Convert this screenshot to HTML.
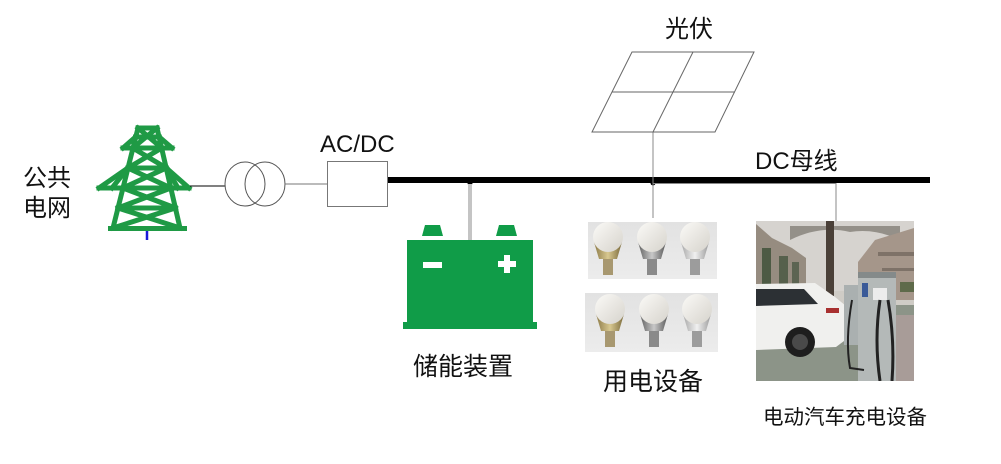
<!DOCTYPE html>
<html><head><meta charset="utf-8">
<style>
html,body{margin:0;padding:0;background:#fff;}
svg{display:block;}
text{font-family:"Liberation Sans","Noto Sans CJK SC",sans-serif;fill:#111;}
</style></head>
<body>
<svg width="1001" height="464" viewBox="0 0 1001 464" xmlns="http://www.w3.org/2000/svg">
<defs>
<linearGradient id="globe" x1="0" y1="0" x2="1" y2="1">
<stop offset="0" stop-color="#fbfaf7"/><stop offset="1" stop-color="#d6d3cc"/></linearGradient>
<linearGradient id="gold" x1="0" y1="0" x2="1" y2="0">
<stop offset="0" stop-color="#8c7a48"/><stop offset="0.5" stop-color="#d8c890"/><stop offset="1" stop-color="#7a6a3c"/></linearGradient>
<linearGradient id="silver" x1="0" y1="0" x2="1" y2="0">
<stop offset="0" stop-color="#606060"/><stop offset="0.5" stop-color="#c8c8c8"/><stop offset="1" stop-color="#585858"/></linearGradient>
<linearGradient id="white" x1="0" y1="0" x2="1" y2="0">
<stop offset="0" stop-color="#a8a8a8"/><stop offset="0.5" stop-color="#f0f0f0"/><stop offset="1" stop-color="#9a9a9a"/></linearGradient>
<linearGradient id="bgb" x1="0" y1="0" x2="0" y2="1">
<stop offset="0" stop-color="#e2e2e2"/><stop offset="1" stop-color="#ececec"/></linearGradient>
<clipPath id="evclip"><rect x="756" y="221" width="158" height="160"/></clipPath>
<g id="bulbG">
<path d="M-14,5 L14,5 L9,22 L-9,22 Z" fill="url(#gold)"/>
<rect x="-5" y="22" width="10" height="16" fill="#a89870"/>
<circle cx="0" cy="0" r="15" fill="url(#globe)"/>
</g>
<g id="bulbS">
<path d="M-14,5 L14,5 L9,22 L-9,22 Z" fill="url(#silver)"/>
<rect x="-5" y="22" width="10" height="16" fill="#8a8a8a"/>
<circle cx="0" cy="0" r="15" fill="url(#globe)"/>
</g>
<g id="bulbW">
<path d="M-14,5 L14,5 L9,22 L-9,22 Z" fill="url(#white)"/>
<rect x="-5" y="22" width="10" height="16" fill="#9c9c9c"/>
<circle cx="0" cy="0" r="15" fill="url(#globe)"/>
</g>
</defs>

<!-- Labels -->
<text x="23" y="186" font-size="24">公共</text>
<text x="23" y="216" font-size="24">电网</text>
<text x="320" y="152" font-size="24">AC/DC</text>
<text x="665" y="37" font-size="24">光伏</text>
<text x="755" y="169" font-size="24">DC母线</text>
<text x="413" y="375" font-size="25">储能装置</text>
<text x="603" y="390" font-size="25">用电设备</text>
<text x="763" y="424" font-size="20.5">电动汽车充电设备</text>

<!-- Tower -->
<g stroke="#1f9a45" stroke-width="5" fill="none" stroke-linecap="square" stroke-linejoin="round">
<line x1="138" y1="128" x2="113" y2="228"/>
<line x1="157" y1="128" x2="180" y2="228"/>
<line x1="138" y1="128" x2="157" y2="128"/>
<line x1="135.5" y1="137" x2="159.3" y2="137"/>
<line x1="138" y1="128" x2="161.8" y2="148"/>
<line x1="157" y1="128" x2="132.8" y2="148"/>
<line x1="123" y1="148" x2="172" y2="148"/>
<line x1="135.5" y1="137" x2="123" y2="148"/>
<line x1="159.3" y1="137" x2="172" y2="148"/>
<line x1="127.9" y1="168" x2="166.3" y2="168"/>
<line x1="132.8" y1="148" x2="166.3" y2="168"/>
<line x1="161.8" y1="148" x2="127.9" y2="168"/>
<line x1="99" y1="188" x2="189" y2="188"/>
<line x1="127.9" y1="168" x2="99" y2="188"/>
<line x1="166.3" y1="168" x2="189" y2="188"/>
<line x1="127.9" y1="168" x2="112" y2="188"/>
<line x1="166.3" y1="168" x2="178" y2="188"/>
<line x1="127.9" y1="168" x2="170.9" y2="188"/>
<line x1="166.3" y1="168" x2="122.9" y2="188"/>
<line x1="122.9" y1="188" x2="175.4" y2="208"/>
<line x1="170.9" y1="188" x2="118" y2="208"/>
<line x1="118" y1="208" x2="175.4" y2="208"/>
<line x1="118" y1="208" x2="180" y2="228"/>
<line x1="175.4" y1="208" x2="113" y2="228"/>
</g>
<rect x="108" y="226" width="79" height="5" fill="#1f9a45"/>
<line x1="147" y1="231" x2="147" y2="240" stroke="#1a1ad8" stroke-width="2.5"/>

<!-- Connections -->
<line x1="190" y1="186" x2="225" y2="186" stroke="#000" stroke-width="1"/>
<ellipse cx="245" cy="184" rx="20" ry="22" fill="none" stroke="#555" stroke-width="1"/>
<ellipse cx="265" cy="184" rx="20" ry="22" fill="none" stroke="#555" stroke-width="1"/>
<line x1="285" y1="184" x2="327" y2="184" stroke="#777" stroke-width="1"/>
<rect x="327.5" y="161.5" width="60" height="45" fill="#fff" stroke="#777" stroke-width="1"/>
<rect x="388" y="177" width="542" height="6" fill="#000"/>
<circle cx="470" cy="183" r="2.5" fill="#000"/>
<circle cx="653" cy="183" r="2.5" fill="#000"/>
<line x1="470" y1="184" x2="470" y2="240" stroke="#c4c4c4" stroke-width="4"/>
<line x1="653" y1="132" x2="653" y2="218" stroke="#888" stroke-width="1"/>
<line x1="653" y1="183.5" x2="836" y2="183.5" stroke="#888" stroke-width="1"/>
<line x1="836" y1="183" x2="836" y2="222" stroke="#888" stroke-width="1"/>

<!-- PV panel -->
<g stroke="#666" stroke-width="1" fill="none">
<polygon points="632,52 754,52 715,132 592,132"/>
<line x1="612" y1="92" x2="735" y2="92"/>
<line x1="693" y1="52" x2="653" y2="132"/>
</g>

<!-- Battery -->
<g fill="#109c48">
<path d="M425,225 L440,225 L443,236 L422,236 Z"/>
<path d="M499,225 L514,225 L517,236 L496,236 Z"/>
<rect x="407" y="240" width="126" height="84"/>
<rect x="403" y="322" width="134" height="7"/>
</g>
<rect x="423" y="262" width="19" height="6" fill="#fff"/>
<rect x="498" y="261" width="18" height="6" fill="#fff"/>
<rect x="504" y="255" width="6" height="18" fill="#fff"/>

<!-- Bulb images -->
<rect x="588" y="222" width="129" height="57" fill="url(#bgb)"/>
<rect x="585" y="293" width="133" height="59" fill="url(#bgb)"/>
<g clip-path="none">
<use href="#bulbG" x="608" y="237"/>
<use href="#bulbS" x="652" y="237"/>
<use href="#bulbW" x="695" y="237"/>
<use href="#bulbG" x="610" y="309"/>
<use href="#bulbS" x="654" y="309"/>
<use href="#bulbW" x="697" y="309"/>
</g>

<!-- EV photo -->
<g clip-path="url(#evclip)">
<rect x="756" y="221" width="158" height="160" fill="#cfccc6"/>
<rect x="756" y="221" width="158" height="70" fill="#d6d3cf"/>
<!-- left buildings -->
<polygon points="756,224 772,238 792,248 806,258 806,292 756,292" fill="#968c80"/>
<rect x="762" y="248" width="9" height="42" fill="#4d5a44"/>
<rect x="779" y="256" width="9" height="34" fill="#56604c"/>
<rect x="792" y="262" width="7" height="28" fill="#5c6452"/>
<!-- tree branches / trunk -->
<path d="M790,240 Q820,225 850,232 Q875,228 900,240 L900,226 L790,226 Z" fill="#5e5a50" opacity="0.55"/>
<rect x="826" y="221" width="8" height="75" fill="#4a4038"/>
<!-- right buildings -->
<polygon points="858,262 875,240 914,228 914,300 858,300" fill="#a5968a"/>
<rect x="878" y="252" width="36" height="4" fill="#7e7268"/>
<rect x="882" y="268" width="32" height="3" fill="#7e7268"/>
<rect x="900" y="282" width="14" height="10" fill="#5e6a4a"/>
<!-- ground -->
<polygon points="756,345 845,305 914,305 914,381 756,381" fill="#8c9488"/>
<polygon points="895,315 914,315 914,381 885,381" fill="#a89c98"/>
<!-- car -->
<path d="M756,284 L815,283 L835,297 L846,306 L848,338 L836,347 L756,350 Z" fill="#f0f0ee"/>
<path d="M756,289 L804,289 L818,304 L756,306 Z" fill="#2c3034"/>
<rect x="826" y="308" width="13" height="5" fill="#a83030"/>
<circle cx="800" cy="342" r="15" fill="#1e1e1e"/>
<circle cx="800" cy="342" r="8" fill="#4a4a4a"/>
<!-- chargers -->
<rect x="844" y="285" width="16" height="60" fill="#aab0b0"/>
<rect x="858" y="272" width="38" height="109" fill="#b4b9b8"/>
<rect x="858" y="272" width="38" height="6" fill="#848a8a"/>
<rect x="862" y="283" width="6" height="14" fill="#3a5a98"/>
<rect x="873" y="288" width="14" height="12" fill="#ececec"/>
<path d="M880,300 Q874,340 880,381" stroke="#222" stroke-width="3" fill="none"/>
<path d="M888,300 Q895,340 892,381" stroke="#222" stroke-width="3" fill="none"/>
<path d="M852,300 Q845,340 850,368 L864,370" stroke="#222" stroke-width="2" fill="none"/>
</g>
</svg>
</body></html>
